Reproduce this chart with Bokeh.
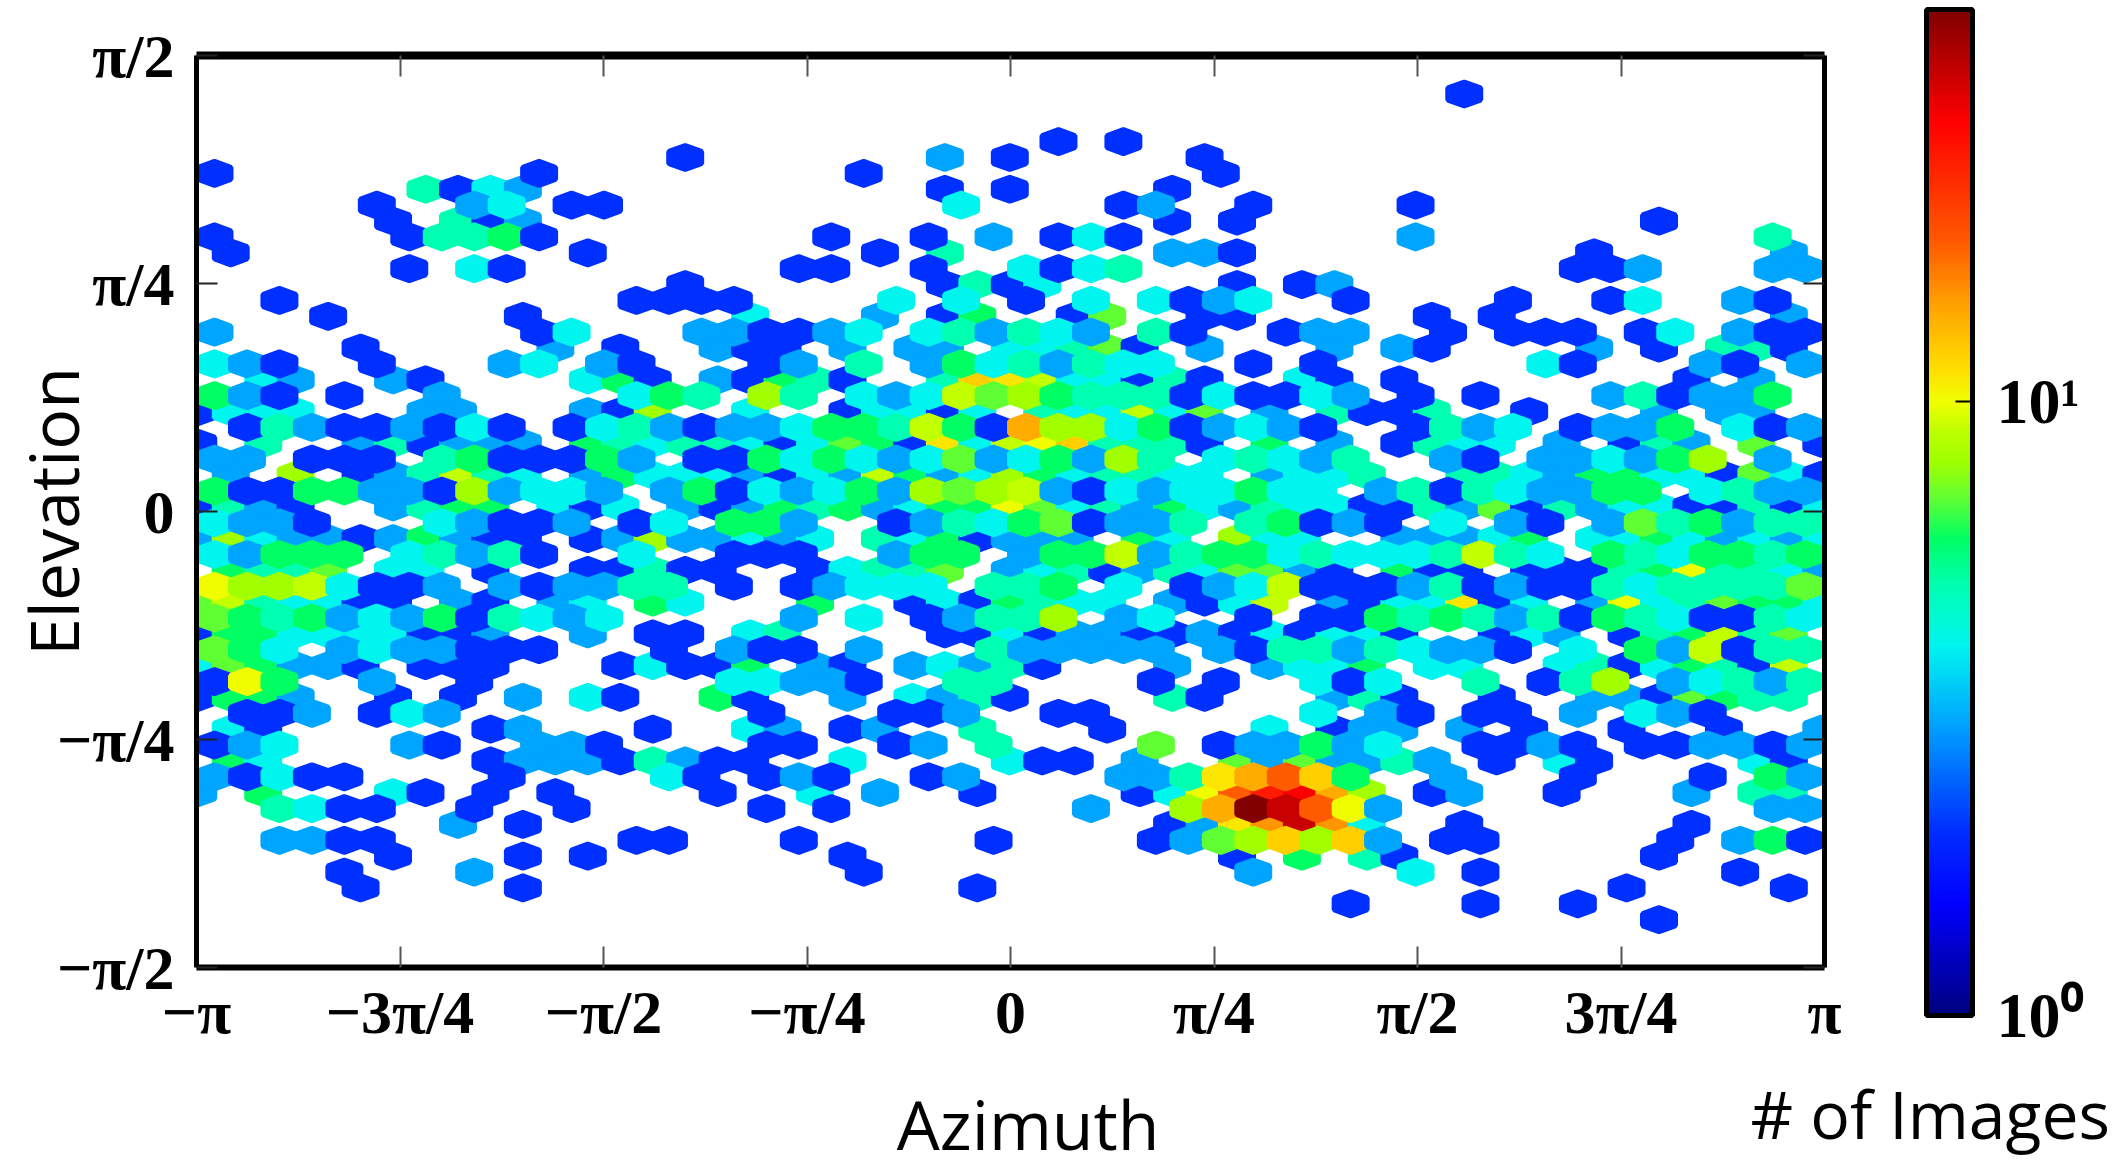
import numpy as np
from math import pi
from bokeh.embed import file_html
from bokeh.resources import INLINE
from bokeh.models import (ColumnDataSource, ColorBar, FixedTicker, LinearAxis,
                          LogColorMapper, Title)
from bokeh.plotting import figure
from bokeh.transform import transform

# hexbin counts: one list per bin row, top to bottom, (column, images)
row_00 = [(77,1)]
row_03 = [(52,1),(56,1)]
row_04 = [(29,1),(45,2),(49,1),(61,1)]
row_05 = [(0,1),(20,1),(40,1),(62,1)]
row_06 = [(13,4),(15,1),(17,3),(19,2),(45,1),(49,1),(59,1)]
row_07 = [(10,1),(16,2),(18,3),(22,1),(24,1),(46,3),(56,1),(58,2),(64,1),(74,1)]
row_08 = [(11,1),(15,4),(17,1),(19,2),(59,1),(63,1),(89,1)]
row_09 = [(0,1),(12,1),(14,4),(16,4),(18,5),(20,1),(38,1),(44,1),(48,2),(52,1),(54,3),(56,1),(74,2),(96,4)]
row_10 = [(1,1),(23,1),(41,1),(45,4),(59,2),(61,2),(63,1),(85,1),(97,2)]
row_11 = [(12,1),(16,3),(18,1),(36,1),(38,1),(44,1),(50,3),(52,1),(54,3),(56,4),(84,1),(86,1),(88,2),(96,2),(98,2)]
row_12 = [(29,1),(45,1),(47,4),(49,1),(51,3),(63,1),(67,1),(69,2)]
row_13 = [(4,1),(26,1),(28,1),(30,1),(32,1),(42,3),(46,3),(50,1),(54,3),(58,3),(60,1),(62,2),(64,3),(70,1),(80,1),(86,1),(88,3),(94,2),(96,1)]
row_14 = [(7,1),(19,1),(33,3),(41,2),(45,1),(47,5),(53,1),(55,6),(61,1),(63,1),(75,1),(79,1),(97,2)]
row_15 = [(0,2),(20,1),(22,3),(30,2),(32,2),(34,1),(36,1),(38,2),(40,3),(44,3),(46,4),(48,2),(50,4),(52,3),(54,2),(58,4),(60,1),(66,1),(68,2),(70,2),(76,1),(80,1),(82,1),(84,1),(88,1),(90,3),(94,2),(96,1),(98,1)]
row_16 = [(9,1),(21,2),(25,1),(31,2),(33,1),(35,1),(39,2),(43,2),(45,2),(49,3),(51,3),(53,4),(55,6),(57,1),(61,2),(69,2),(73,2),(75,1),(85,2),(89,1),(93,4),(95,4),(97,1)]
row_17 = [(0,3),(2,2),(4,1),(10,1),(18,2),(20,3),(24,2),(26,1),(34,1),(36,2),(40,4),(44,2),(46,5),(48,3),(50,4),(52,2),(54,4),(56,3),(58,3),(64,1),(68,1),(82,3),(84,1),(92,2),(94,1),(98,2)]
row_18 = [(3,3),(5,2),(11,2),(13,1),(23,3),(25,5),(27,1),(31,2),(33,1),(35,5),(37,4),(39,1),(45,4),(47,11),(49,10),(51,8),(53,3),(55,3),(57,1),(59,4),(61,1),(67,3),(69,1),(73,1),(91,1),(95,2)]
row_19 = [(0,5),(2,2),(4,1),(8,1),(14,2),(26,3),(28,5),(30,4),(34,7),(36,4),(40,3),(42,2),(44,3),(46,8),(48,6),(50,7),(52,5),(54,4),(56,4),(58,4),(60,1),(62,3),(64,1),(66,1),(68,3),(70,2),(74,1),(78,1),(86,2),(88,4),(90,1),(92,2),(94,2),(96,5)]
row_20 = [(-1,1),(1,3),(3,3),(5,3),(13,2),(15,2),(23,2),(25,1),(27,7),(33,3),(39,1),(41,3),(43,3),(45,1),(47,3),(51,4),(53,3),(55,3),(57,8),(59,3),(61,6),(65,2),(69,4),(71,1),(73,1),(75,4),(81,1),(89,2),(93,2),(95,2)]
row_21 = [(2,1),(4,4),(6,2),(8,1),(10,1),(12,2),(14,1),(16,3),(18,1),(22,1),(24,3),(26,4),(28,2),(30,1),(32,2),(34,2),(36,3),(38,5),(40,5),(42,4),(44,8),(46,5),(48,1),(50,13),(52,7),(54,7),(56,3),(58,5),(60,1),(62,2),(64,3),(66,2),(68,1),(74,1),(76,4),(78,2),(80,3),(84,1),(86,2),(88,2),(90,5),(94,3),(96,1),(98,2)]
row_22 = [(-1,1),(3,4),(9,2),(11,4),(13,1),(15,2),(17,2),(19,2),(23,5),(25,4),(27,3),(29,4),(31,4),(33,3),(35,1),(37,3),(39,6),(41,5),(43,1),(45,10),(47,3),(49,8),(51,9),(53,11),(55,4),(57,4),(59,4),(61,1),(65,5),(69,2),(73,1),(75,4),(77,3),(79,3),(83,2),(87,1),(89,4),(91,2),(95,6),(99,1)]
row_23 = [(0,2),(2,2),(6,1),(8,1),(10,1),(14,4),(16,5),(18,1),(20,1),(22,1),(24,5),(26,2),(30,1),(32,1),(34,5),(36,3),(38,5),(40,3),(42,2),(44,3),(46,6),(48,2),(50,3),(52,5),(54,2),(56,7),(58,4),(62,3),(64,4),(66,3),(68,2),(70,4),(76,2),(78,1),(82,2),(84,2),(86,3),(88,2),(90,5),(92,7),(96,2)]
row_24 = [(1,2),(5,7),(9,1),(11,2),(13,4),(15,8),(17,4),(19,3),(23,2),(25,5),(27,3),(29,3),(31,3),(33,2),(35,1),(37,3),(39,2),(41,8),(43,5),(45,2),(47,3),(49,7),(51,5),(53,3),(55,4),(57,4),(59,3),(61,3),(65,2),(67,3),(69,3),(71,4),(77,4),(79,4),(81,3),(83,2),(85,5),(87,5),(89,3),(91,3),(93,1),(95,6),(97,3),(99,1)]
row_25 = [(0,5),(2,1),(4,1),(6,5),(8,5),(10,2),(12,2),(14,1),(16,7),(18,2),(20,3),(22,3),(24,2),(28,2),(30,5),(32,1),(34,3),(36,2),(38,3),(40,5),(42,2),(44,7),(46,6),(48,7),(50,8),(52,2),(54,1),(56,3),(58,2),(60,3),(62,3),(64,5),(66,3),(68,3),(72,2),(74,4),(76,1),(78,4),(80,3),(82,2),(84,2),(86,5),(88,5),(92,3),(94,4),(96,2),(98,2)]
row_26 = [(-1,1),(1,4),(3,2),(5,1),(11,2),(13,4),(15,5),(17,5),(21,3),(23,1),(25,3),(29,2),(31,1),(33,2),(35,5),(37,4),(39,5),(41,2),(43,3),(45,5),(47,5),(49,9),(51,6),(53,3),(55,4),(57,2),(59,5),(61,3),(63,2),(65,4),(67,3),(69,3),(71,1),(73,1),(75,4),(77,2),(79,6),(81,1),(83,4),(85,2),(87,3),(89,3),(91,1),(93,1),(95,4),(97,1),(99,3)]
row_27 = [(0,3),(2,2),(4,2),(6,1),(14,3),(16,2),(18,1),(20,1),(22,2),(26,1),(28,3),(32,5),(34,5),(36,2),(42,1),(44,2),(46,4),(48,3),(50,5),(52,6),(54,1),(56,2),(58,2),(60,4),(64,4),(66,5),(68,1),(70,2),(72,1),(76,3),(80,2),(82,1),(86,2),(88,6),(90,4),(92,5),(94,2),(96,4),(98,4)]
row_28 = [(-1,2),(1,7),(3,3),(5,2),(7,2),(9,1),(11,2),(13,5),(15,2),(17,1),(19,1),(23,1),(25,2),(27,7),(29,2),(31,2),(33,3),(35,2),(37,3),(41,4),(43,3),(45,5),(47,1),(49,2),(51,2),(53,2),(57,5),(59,3),(63,7),(65,3),(67,3),(73,2),(75,2),(77,2),(79,3),(81,5),(85,3),(87,3),(89,5),(91,3),(93,2),(95,3),(97,2),(99,3)]
row_29 = [(0,3),(2,2),(4,5),(6,5),(8,5),(12,3),(14,4),(16,2),(18,4),(20,1),(26,3),(32,1),(34,1),(36,1),(42,2),(44,5),(46,5),(50,2),(52,5),(54,5),(56,8),(58,2),(60,4),(62,5),(64,5),(66,3),(68,4),(70,3),(72,3),(74,3),(76,4),(78,8),(80,4),(82,3),(86,5),(88,4),(90,3),(92,5),(94,5),(96,4),(98,5)]
row_30 = [(1,5),(3,4),(5,4),(7,6),(11,3),(13,3),(17,1),(23,1),(25,1),(27,4),(29,1),(31,1),(37,1),(39,3),(41,4),(43,4),(45,6),(49,2),(51,3),(53,4),(55,1),(57,2),(59,4),(61,3),(63,6),(65,6),(67,2),(69,1),(73,5),(75,1),(77,1),(81,1),(83,1),(85,1),(87,4),(89,5),(91,9),(93,4),(95,4),(97,3),(99,2)]
row_31 = [(0,9),(2,7),(4,7),(6,8),(8,3),(10,1),(12,1),(14,2),(18,2),(20,1),(22,2),(24,2),(26,4),(28,4),(32,1),(36,1),(38,2),(40,3),(42,3),(44,3),(48,4),(50,4),(52,5),(56,3),(60,1),(62,2),(64,3),(66,8),(68,1),(70,1),(72,1),(74,2),(76,4),(78,1),(80,2),(82,1),(84,1),(86,4),(88,3),(90,4),(92,4),(94,4),(96,4),(98,6)]
row_32 = [(-1,6),(1,8),(3,4),(5,3),(7,3),(9,1),(11,1),(15,2),(17,1),(21,2),(23,3),(27,5),(29,3),(37,5),(43,1),(45,3),(47,1),(49,5),(51,4),(53,3),(55,3),(59,2),(61,1),(63,3),(65,8),(69,2),(71,1),(73,3),(75,3),(77,10),(79,1),(81,3),(85,2),(87,9),(89,3),(91,4),(93,6),(95,5),(97,5),(99,3)]
row_33 = [(0,6),(2,5),(4,4),(6,5),(8,2),(10,3),(12,2),(14,5),(16,1),(18,4),(20,3),(22,2),(24,3),(36,2),(40,3),(44,1),(46,2),(48,4),(50,4),(52,7),(56,2),(58,3),(64,1),(68,1),(70,1),(72,5),(74,4),(76,5),(78,4),(80,2),(82,4),(84,1),(86,5),(88,4),(90,3),(92,1),(94,1),(96,4),(98,3)]
row_34 = [(-1,1),(1,5),(3,5),(5,3),(7,3),(9,3),(11,3),(13,1),(15,1),(17,2),(23,2),(27,1),(29,1),(33,3),(35,4),(45,1),(47,1),(49,3),(51,1),(53,2),(55,2),(57,1),(59,1),(61,2),(63,1),(65,3),(67,1),(69,3),(71,3),(73,1),(79,1),(81,3),(83,2),(87,1),(89,4),(91,5),(93,8),(95,4),(97,6)]
row_35 = [(0,6),(2,5),(4,3),(8,2),(10,3),(12,2),(14,2),(16,1),(18,1),(20,1),(28,1),(32,2),(34,1),(36,1),(40,2),(48,4),(50,2),(52,2),(54,2),(56,2),(58,2),(62,2),(64,1),(66,4),(68,4),(70,2),(72,4),(74,3),(76,2),(78,2),(80,1),(84,3),(88,5),(90,2),(92,8),(94,1),(96,4),(98,4)]
row_36 = [(-1,3),(1,6),(3,5),(5,2),(7,2),(9,1),(13,1),(15,1),(17,1),(25,1),(27,3),(29,1),(31,1),(33,5),(37,2),(39,1),(43,2),(45,3),(47,2),(49,4),(51,1),(59,2),(65,2),(67,3),(69,3),(71,5),(75,3),(77,3),(83,3),(85,4),(87,1),(89,3),(91,5),(93,4),(95,1),(97,8)]
row_37 = [(0,1),(2,9),(4,5),(10,2),(16,1),(32,3),(34,3),(36,2),(38,2),(40,1),(46,4),(48,4),(58,1),(62,1),(68,3),(70,1),(72,3),(78,4),(82,1),(84,4),(86,7),(90,2),(92,3),(94,4),(96,2),(98,4)]
row_38 = [(-1,1),(1,5),(3,5),(5,2),(11,1),(15,1),(19,2),(23,3),(25,1),(31,5),(33,1),(39,2),(43,3),(45,2),(47,4),(49,1),(59,4),(61,1),(69,2),(71,4),(73,1),(79,1),(85,2),(87,2),(89,1),(91,6),(93,5),(95,4),(97,4)]
row_39 = [(2,1),(4,1),(6,2),(10,1),(12,3),(14,2),(34,1),(42,1),(44,1),(46,2),(52,1),(54,1),(68,3),(72,2),(74,1),(78,1),(80,1),(84,2),(88,3),(90,2),(92,1)]
row_40 = [(1,3),(3,1),(17,1),(19,2),(27,1),(33,3),(35,2),(39,1),(41,2),(47,4),(55,1),(65,3),(69,1),(71,2),(73,2),(77,2),(81,1),(87,1),(93,1),(99,2)]
row_41 = [(0,1),(2,2),(4,3),(12,2),(14,1),(20,2),(22,2),(24,1),(34,1),(36,1),(42,1),(44,2),(48,4),(58,6),(62,1),(64,2),(66,2),(68,5),(70,2),(72,3),(78,1),(80,1),(82,2),(84,1),(88,1),(90,1),(92,2),(94,2),(96,1),(98,2)]
row_42 = [(1,5),(3,3),(17,1),(19,2),(21,2),(23,2),(25,1),(27,4),(29,2),(31,1),(33,1),(39,3),(49,3),(51,1),(53,1),(57,2),(63,6),(65,2),(67,6),(69,2),(71,2),(73,4),(75,2),(79,1),(83,3),(85,1),(95,3),(97,1)]
row_43 = [(0,2),(2,1),(4,3),(6,1),(8,1),(18,1),(28,3),(30,1),(34,1),(36,2),(38,1),(44,1),(46,2),(56,2),(58,2),(60,4),(62,10),(64,13),(66,17),(68,11),(70,5),(76,2),(84,1),(92,1),(96,5),(98,2)]
row_44 = [(-1,2),(3,5),(11,3),(13,1),(17,1),(21,1),(31,1),(37,3),(41,2),(47,1),(57,1),(59,3),(61,9),(63,17),(65,24),(67,28),(69,13),(71,7),(75,1),(77,2),(83,1),(91,2),(95,4),(97,4)]
row_45 = [(4,4),(6,3),(8,1),(10,1),(16,1),(22,1),(34,1),(38,1),(54,2),(60,7),(62,13),(64,43),(66,33),(68,17),(70,9),(72,2),(96,2),(98,2)]
row_46 = [(15,2),(19,1),(59,1),(61,2),(63,10),(65,14),(67,33),(69,14),(71,3),(77,1),(91,1)]
row_47 = [(4,2),(6,2),(8,1),(10,1),(26,1),(28,1),(36,1),(48,1),(58,1),(60,2),(62,6),(64,7),(66,11),(68,7),(70,11),(72,2),(76,1),(78,1),(90,1),(94,2),(96,5),(98,1)]
row_48 = [(11,1),(19,1),(23,1),(39,1),(63,1),(67,5),(71,4),(73,1),(89,1)]
row_49 = [(8,1),(16,2),(40,1),(64,2),(74,3),(78,1),(94,1)]
row_50 = [(9,1),(19,1),(47,1),(87,1),(97,1)]
row_51 = [(70,1),(78,1),(84,1)]
row_52 = [(89,1)]

bin_rows = {0: row_00, 3: row_03, 4: row_04, 5: row_05, 6: row_06, 7: row_07, 8: row_08, 9: row_09,
            10: row_10, 11: row_11, 12: row_12, 13: row_13, 14: row_14, 15: row_15, 16: row_16,
            17: row_17, 18: row_18, 19: row_19, 20: row_20, 21: row_21, 22: row_22, 23: row_23,
            24: row_24, 25: row_25, 26: row_26, 27: row_27, 28: row_28, 29: row_29, 30: row_30,
            31: row_31, 32: row_32, 33: row_33, 34: row_34, 35: row_35, 36: row_36, 37: row_37,
            38: row_38, 39: row_39, 40: row_40, 41: row_41, 42: row_42, 43: row_43, 44: row_44,
            45: row_45, 46: row_46, 47: row_47, 48: row_48, 49: row_49, 50: row_50, 51: row_51,
            52: row_52}

# axis ticks
ticks_azimuth = [-pi, -3*pi/4, -pi/2, -pi/4, 0, pi/4, pi/2, 3*pi/4, pi]
labels_azimuth = ["\u2212\u03c0", "\u22123\u03c0/4", "\u2212\u03c0/2", "\u2212\u03c0/4", "0", "\u03c0/4", "\u03c0/2", "3\u03c0/4", "\u03c0"]
ticks_elevation = [-pi/2, -pi/4, 0, pi/4, pi/2]
labels_elevation = ["\u2212\u03c0/2", "\u2212\u03c0/4", "0", "\u03c0/4", "\u03c0/2"]
ticks_colorbar = [1, 10]
labels_colorbar = {1: "10\u2070", 10: "10\u00b9"}

# hexbin grid in data units
AZ_START, AZ_STEP = -3.0721, 0.06264
EL_START, EL_STEP = 1.4382, 0.0547
HEX_R = EL_STEP / 1.35
COUNT_MAX = 43.6

# jet with the flattened greens the picture has
jet_pos = [0, .11, .184, .291, .367, .426, .474, .515, .551, .582, .61, .64, .70, .77, .89, 1]
jet_r = [0, 0, 0, 0, 0, 0, 0, 100, 160, 190, 240, 255, 255, 255, 255, 130]
jet_g = [0, 0, 48, 166, 245, 255, 255, 255, 255, 255, 255, 225, 170, 90, 0, 0]
jet_b = [130, 255, 255, 255, 240, 180, 100, 50, 0, 0, 0, 0, 0, 0, 0, 0]
t = np.linspace(0, 1, 256)
palette = ["#%02x%02x%02x" % (int(r), int(g), int(b)) for r, g, b in
           zip(np.interp(t, jet_pos, jet_r), np.interp(t, jet_pos, jet_g), np.interp(t, jet_pos, jet_b))]

xs, ys, shade = [], [], []
# even rows go first, the odd ones are painted over them
for row in sorted(bin_rows, key=lambda r: (r % 2, r)):
    for col, count in bin_rows[row]:
        x = AZ_START + col * AZ_STEP
        y = EL_START - row * EL_STEP
        xs.append([x, x + AZ_STEP, x + AZ_STEP, x, x - AZ_STEP, x - AZ_STEP])
        ys.append([y + HEX_R, y + HEX_R/2, y - HEX_R/2, y - HEX_R, y - HEX_R/2, y + HEX_R/2])
        shade.append(count + 1)  # log10(count + 1), like hexbin with bins="log"

source = ColumnDataSource(data=dict(xs=xs, ys=ys, shade=shade))
mapper = LogColorMapper(palette=palette, low=1, high=COUNT_MAX)

p = figure(width=2110, height=1172, x_range=(-pi, pi), y_range=(-pi/2, pi/2),
           output_backend="svg", toolbar_location=None,
           min_border_left=196, min_border_right=286, min_border_top=55, min_border_bottom=205)
p.grid.grid_line_color = None
p.outline_line_color = None

p.patches("xs", "ys", source=source, fill_color=transform("shade", mapper),
          line_color=transform("shade", mapper), line_width=5.5)

TICK_FONT = "Liberation Serif"
TICK_SIZE = "62px"
TITLE_FONT = "Open Sans"


def style_axis(axis, ticks, overrides, line_width, tick_color):
    axis.ticker = FixedTicker(ticks=ticks)
    axis.major_label_overrides = overrides
    axis.axis_line_width = line_width
    axis.axis_line_color = "black"
    axis.major_tick_in = 21
    axis.major_tick_out = 0
    axis.major_tick_line_width = 2
    axis.major_tick_line_color = tick_color
    axis.minor_tick_line_color = None
    axis.major_label_text_font = TICK_FONT
    axis.major_label_text_font_size = TICK_SIZE
    axis.major_label_text_font_style = "bold"
    axis.major_label_text_color = "black"
    axis.axis_label_text_font = TITLE_FONT
    axis.axis_label_text_font_size = "68px"
    axis.axis_label_text_font_style = "normal"
    axis.axis_label_text_color = "black"


az_over = dict(zip(ticks_azimuth, labels_azimuth))
el_over = dict(zip(ticks_elevation, labels_elevation))
style_axis(p.xaxis[0], ticks_azimuth, az_over, 6, "#555555")
style_axis(p.yaxis[0], ticks_elevation, el_over, 5, "#222222")
p.xaxis[0].major_label_standoff = 10
p.yaxis[0].major_label_standoff = 22
# the two nbsp push the title right of the frame centre, as in the picture
p.xaxis[0].axis_label = "\u00a0\u00a0Azimuth"
p.xaxis[0].axis_label_standoff = 28
p.yaxis[0].axis_label = "Elevation"
p.yaxis[0].axis_label_standoff = -45

# matching frame on the other two sides, ticks but no labels
top_axis = LinearAxis()
style_axis(top_axis, ticks_azimuth, {}, 8, "#555555")
top_axis.major_label_text_font_size = "1px"
top_axis.major_label_text_color = None
top_axis.major_label_standoff = 0
p.add_layout(top_axis, "above")
right_axis = LinearAxis()
style_axis(right_axis, ticks_elevation, {}, 5, "#222222")
right_axis.major_label_text_font_size = "1px"
right_axis.major_label_text_color = None
right_axis.major_label_standoff = 0
p.add_layout(right_axis, "right")

bar = ColorBar(color_mapper=mapper, ticker=FixedTicker(ticks=ticks_colorbar),
               major_label_overrides=labels_colorbar,
               width=46, height=1006, location=(1730, -48), padding=0,
               background_fill_color=None, border_line_color=None,
               bar_line_color="black", bar_line_width=5,
               major_tick_line_color="black", major_tick_line_width=2, major_tick_in=17,
               minor_tick_line_color=None, label_standoff=24,
               major_label_text_font=TICK_FONT, major_label_text_font_size="64px",
               major_label_text_font_style="bold", major_label_text_color="black")
p.add_layout(bar, "center")

# colour bar caption: a title in the bottom panel, pulled up next to the axis title
caption = Title(text="# of Images", align="left", vertical_align="top", offset=1554, standoff=-210,
                text_font=TITLE_FONT, text_font_size="66px", text_font_style="normal",
                text_color="black")
p.add_layout(caption, "below")

open("out.html", "w").write(file_html(p, INLINE))
